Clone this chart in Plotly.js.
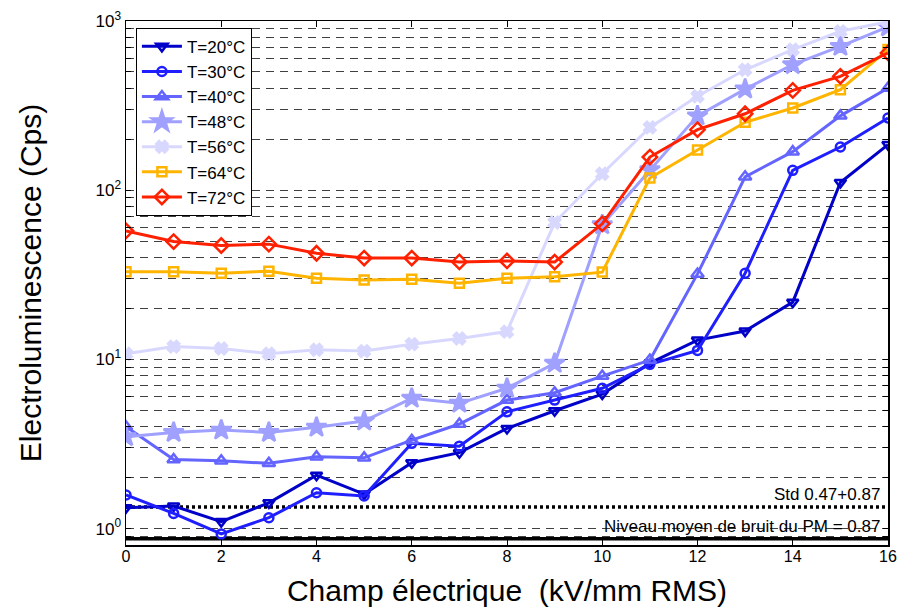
<!DOCTYPE html>
<html>
<head>
<meta charset="utf-8">
<script src="https://cdn.plot.ly/plotly-3.0.1.min.js"></script>
<style>html,body{margin:0;padding:0;background:#fff;}#chart{width:899px;height:614px;}</style>
</head>
<body>
<div id="chart"></div>
<script>
// Electric field (kV/mm RMS)
const field = [0,1,2,3,4,5,6,7,8,9,10,11,12,13,14,15,16];

// Electroluminescence (Cps) per temperature
const t20 = [1.33,1.36,1.10,1.42,2.07,1.60,2.45,2.81,3.91,4.97,6.24,9.5,13.0,14.7,21.8,111,186];
const t30 = [1.58,1.23,0.93,1.16,1.63,1.56,3.19,3.07,4.90,5.75,6.75,9.35,11.3,32.3,131,180,267];
const t40 = [4.0,2.56,2.52,2.43,2.66,2.62,3.33,4.15,5.75,6.35,7.97,9.91,32.0,120,169,275,402];
const t48 = [3.49,3.70,3.82,3.70,3.97,4.32,5.89,5.50,6.75,9.48,62.4,132,275,396,552,708,923];
const t56 = [10.8,11.9,11.6,10.8,11.4,11.2,12.3,13.3,14.6,64.4,125,235,359,515,678,869,990];
const t64 = [33.0,33.0,32.3,33.2,30.2,29.5,29.8,28.2,30.2,30.8,32.8,118,173,252,306,393,678];
const t72 = [57.5,49.7,47.1,48.0,42.4,39.7,39.7,37.7,38.2,37.6,63.3,157,228,283,389,471,648];

const seriesNames = ['T=20°C','T=30°C','T=40°C','T=48°C','T=56°C','T=64°C','T=72°C'];

// PM noise
const noiseMean = 0.87;
const noiseStd = 0.47;
const noiseX = [0,16];

// axis ticks
const xTicks = [0,2,4,6,8,10,12,14,16];
const yGrid = [0.8,0.9,1,2,3,4,5,6,7,8,9,10,20,30,40,50,60,70,80,90,100,200,300,400,500,600,700,800,900,1000];
const yDecades = {1:'10<sup>0</sup>',10:'10<sup>1</sup>',100:'10<sup>2</sup>',1000:'10<sup>3</sup>'};
const yTickText = yGrid.map(v => yDecades[v] || '');

const styles = [
  {color:'#0000C8', symbol:'triangle-down-open', size:10},
  {color:'#1E1EFF', symbol:'circle-open', size:9},
  {color:'#6464FF', symbol:'triangle-up-open', size:11},
  {color:'#A0A0FF', symbol:'star', size:15},
  {color:'#D8D8FF', symbol:'x', size:10},
  {color:'#FFB400', symbol:'square-open', size:9},
  {color:'#FF2000', symbol:'diamond-open', size:11}
];
const data = [t20,t30,t40,t48,t56,t64,t72];

const traces = [];
const stdLevel = noiseMean + noiseStd;
traces.push({x:noiseX, y:noiseX.map(()=>stdLevel), mode:'lines', showlegend:false, hoverinfo:'skip',
  line:{color:'#000', width:3.5, dash:'3px,3px'}});
traces.push({x:noiseX, y:noiseX.map(()=>noiseMean), mode:'lines', showlegend:false, hoverinfo:'skip',
  line:{color:'#000', width:3.5}});

data.forEach((ys,i)=>{
  const s = styles[i];
  traces.push({
    x: field, y: ys, name: seriesNames[i], mode:'lines+markers',
    line:{color:s.color, width:3},
    marker:{symbol:s.symbol, size:s.size, color:s.color, line:{color:s.color, width:2.5}}
  });
});

const font = 'Arial, "Liberation Sans", sans-serif';
const layout = {
  width:899, height:614,
  margin:{l:126, r:11, t:21, b:69},
  paper_bgcolor:'#fff', plot_bgcolor:'#fff',
  font:{family:font, color:'#000', size:15},
  showlegend:true,
  legend:{x:0.013, y:0.987, xanchor:'left', yanchor:'top', bgcolor:'#fff', bordercolor:'#000', borderwidth:1,
    font:{family:font, size:17}, tracegroupgap:0, itemwidth:40},
  xaxis:{
    range:[0,16], tickvals:xTicks, ticks:'inside', ticklen:6, tickcolor:'#000', tickwidth:1,
    showline:true, linecolor:'#000', linewidth:1.5, mirror:'ticks', showgrid:false, zeroline:false,
    tickfont:{family:font, size:16}, ticklabelstandoff:-4,
    title:{text:'Champ électrique&nbsp; (kV/mm RMS)', font:{family:font, size:30}, standoff:16}
  },
  yaxis:{
    type:'log', range:[Math.log10(0.8), 3], tickvals:yGrid, ticktext:yTickText,
    ticks:'inside', ticklen:5, tickcolor:'#000', tickwidth:1,
    showline:true, linecolor:'#000', linewidth:1.5, mirror:'ticks',
    showgrid:true, gridcolor:'rgba(0,0,0,0.75)', gridwidth:1, griddash:'8px,6px', zeroline:false,
    tickfont:{family:font, size:17},
    title:{text:'Electroluminescence (Cps)', font:{family:font, size:30}, standoff:45}
  },
  annotations:[
    {x:16, y:Math.log10(stdLevel), xref:'x', yref:'y', xanchor:'right', yanchor:'bottom', xshift:-6, yshift:1,
     text:'Std ' + noiseStd + '+' + noiseMean, showarrow:false, font:{family:font, size:17}},
    {x:16, y:Math.log10(noiseMean), xref:'x', yref:'y', xanchor:'right', yanchor:'bottom', xshift:-6, yshift:1,
     text:'Niveau moyen de bruit du PM = ' + noiseMean, showarrow:false, font:{family:font, size:17}}
  ]
};

Plotly.newPlot('chart', traces, layout, {displayModeBar:false, staticPlot:true});
</script>
</body>
</html>
